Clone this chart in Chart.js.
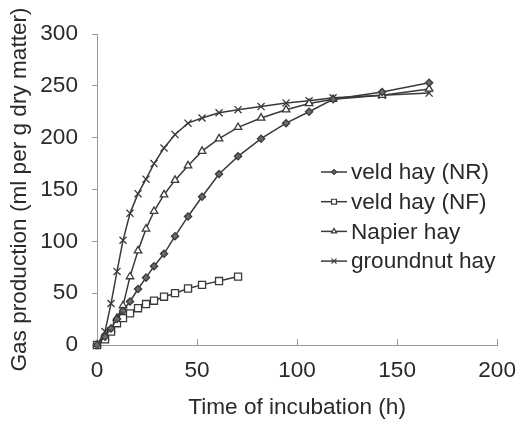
<!DOCTYPE html>
<html>
<head>
<meta charset="utf-8">
<script src="https://cdn.jsdelivr.net/npm/chart.js@4/dist/chart.umd.min.js"></script>
<style>
  html, body { margin: 0; padding: 0; background: #ffffff; }
  #wrap { width: 528px; height: 429px; position: relative; }
</style>
</head>
<body>
<div id="wrap"><canvas id="c" width="528" height="429"></canvas></div>
<script>
// ---- data ----
const hours     = [0, 4, 7, 10, 13, 16.5, 20.5, 24.5, 28.5, 33.5, 39, 45.5, 52.5, 61, 70.5, 82, 94.5, 106, 118, 142.5, 166];
const veldNR    = [0, 8, 16, 25, 33, 42, 54, 65, 76, 88, 105, 124, 143, 165, 182, 199, 214, 225, 237, 244, 253];
const veldNF    = [0, 5.5, 13, 21, 26, 30.5, 35.5, 39.5, 42.7, 46.6, 50, 54.5, 58, 61.7, 66];
const napier    = [0, 7, 15, 26, 38, 66, 91, 112, 129, 145, 159, 173, 187, 199, 210, 219, 227, 233, 237, 241, 247];
const groundnut = [0, 13, 40, 71, 101, 127, 146, 160, 175, 190, 203, 214, 219, 224, 227, 230, 233.5, 235.5, 238.5, 241, 243];
const seriesNames = ['veld hay (NR)', 'veld hay (NF)', 'Napier hay', 'groundnut hay'];
const xTicks = [0, 50, 100, 150, 200];
const yTicks = [0, 50, 100, 150, 200, 250, 300];

const toXY = (arr) => arr.map((v, i) => ({ x: hours[i], y: v }));

const LINE = '#3a3a3a';
const FONT = "'Liberation Sans', Arial, sans-serif";
const FS = 22.6;
const TXT = '#2a2a2a';
const AXIS = '#9a9a9a';

const datasets = [
  { label: seriesNames[0], data: toXY(veldNR), pointStyle: 'rectRot', pointRadius: 3.6,
    pointBackgroundColor: '#6a6a6a', pointBorderColor: LINE },
  { label: seriesNames[1], data: toXY(veldNF), pointStyle: 'rect', pointRadius: 5,
    pointBackgroundColor: '#ffffff', pointBorderColor: LINE },
  { label: seriesNames[2], data: toXY(napier), pointStyle: 'triangle', pointRadius: 4.3,
    pointBackgroundColor: '#ffffff', pointBorderColor: LINE },
  { label: seriesNames[3], data: toXY(groundnut), pointStyle: 'crossRot', pointRadius: 5,
    pointBackgroundColor: '#ffffff', pointBorderColor: LINE }
].map(d => Object.assign({
  borderColor: LINE, borderWidth: 1.5, pointBorderWidth: 1.3, tension: 0,
  fill: false, clip: false, showLine: true
}, d));

const innerXTicks = {
  id: 'innerXTicks',
  afterDraw(chart) {
    const ctx = chart.ctx, xs = chart.scales.x, bottom = chart.chartArea.bottom;
    ctx.save();
    ctx.strokeStyle = AXIS; ctx.lineWidth = 1;
    xTicks.forEach(v => {
      if (v === 0) return;
      const px = Math.round(xs.getPixelForValue(v)) + 0.5;
      ctx.beginPath(); ctx.moveTo(px, bottom); ctx.lineTo(px, bottom - 6); ctx.stroke();
    });
    ctx.restore();
  }
};

const customLegend = {
  id: 'customLegend',
  afterDraw(chart) {
    const ctx = chart.ctx;
    const x0 = 321, x1 = 347, tx = 351, y0 = 172, dy = 29.7;
    ctx.save();
    chart.data.datasets.forEach((ds, i) => {
      const y = y0 + i * dy;
      ctx.strokeStyle = ds.borderColor; ctx.lineWidth = 1.5;
      ctx.beginPath(); ctx.moveTo(x0, y); ctx.lineTo(x1, y); ctx.stroke();
      ctx.fillStyle = ds.pointBackgroundColor; ctx.strokeStyle = ds.pointBorderColor; ctx.lineWidth = 1.2;
      Chart.helpers.drawPoint(ctx, { pointStyle: ds.pointStyle, radius: ds.pointRadius * 0.7, rotation: 0, borderWidth: 1.2 }, (x0 + x1) / 2, y);
      ctx.fillStyle = TXT; ctx.font = FS + 'px ' + FONT; ctx.textBaseline = 'middle'; ctx.textAlign = 'left';
      ctx.fillText(ds.label, tx, y + 1);
    });
    ctx.restore();
  }
};

new Chart(document.getElementById('c'), {
  type: 'scatter',
  data: { datasets },
  plugins: [innerXTicks, customLegend],
  options: {
    responsive: false,
    animation: false,
    layout: { padding: { top: 34, right: 26, left: 0, bottom: 0 } },
    plugins: { legend: { display: false }, tooltip: { enabled: false } },
    scales: {
      x: {
        type: 'linear', min: 0, max: 200,
        afterFit(s) { s.height = 84; },
        afterBuildTicks(s) { s.ticks = xTicks.map(v => ({ value: v })); },
        grid: { drawOnChartArea: false, drawTicks: false },
        border: { color: AXIS, width: 1 },
        ticks: { color: TXT, font: { family: FONT, size: FS }, padding: 12, maxRotation: 0 },
        title: { display: true, text: 'Time of incubation (h)', color: TXT,
                 font: { family: FONT, size: FS }, padding: { top: 6, bottom: 8 } }
      },
      y: {
        min: 0, max: 300,
        afterFit(s) { s.width = 97; },
        afterBuildTicks(s) { s.ticks = yTicks.map(v => ({ value: v })); },
        grid: { drawOnChartArea: false, drawTicks: true, tickLength: 5, color: AXIS },
        border: { color: AXIS, width: 1 },
        ticks: { color: TXT, font: { family: FONT, size: FS }, padding: 14 },
        title: { display: true, text: 'Gas production (ml per g dry matter)', color: TXT,
                 font: { family: FONT, size: FS }, padding: { top: 6, bottom: 0 } }
      }
    }
  }
});
</script>
</body>
</html>
